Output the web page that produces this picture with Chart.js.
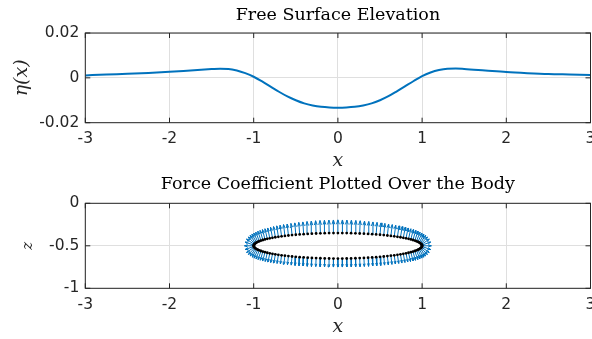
<!DOCTYPE html>
<html><head><meta charset="utf-8">
<script src="https://cdn.jsdelivr.net/npm/chart.js@4.4.1/dist/chart.umd.min.js"></script>
<style>
html,body{margin:0;padding:0;background:#fff;overflow:hidden;width:592px;height:339px;position:relative;}
canvas{position:absolute;left:0;}
#c1{top:0;width:612px;height:172px;}
#c2{top:170px;width:612px;height:168px;}
</style></head><body>
<canvas id="c1" width="612" height="172"></canvas>
<canvas id="c2" width="612" height="168"></canvas>
<script>
// ---------- data ----------
const xTicks = [-3, -2, -1, 0, 1, 2, 3];
const xTickLabels = ['-3', '-2', '-1', '0', '1', '2', '3'];
const etaTicks = [-0.02, 0, 0.02];
const etaTickLabels = ['-0.02', '0', '0.02'];
const zTicks = [-1, -0.5, 0];
const zTickLabels = ['-1', '-0.5', '0'];

// free surface elevation eta(x)
const etaX = [-3, -2.75, -2.5, -2.25, -2, -1.75, -1.5, -1.4, -1.3, -1.2, -1.1, -1.0, -0.9, -0.8, -0.7, -0.6, -0.5, -0.4, -0.3, -0.2, -0.1,
  0, 0.1, 0.2, 0.3, 0.4, 0.5, 0.6, 0.7, 0.8, 0.9, 1.0, 1.1, 1.2, 1.3, 1.4, 1.5, 1.75, 2, 2.25, 2.5, 2.75, 3];
const etaY = [0.0011, 0.0015, 0.0018, 0.0022, 0.0027, 0.0033, 0.0039, 0.0041, 0.0040, 0.0033, 0.0021, 0.0005, -0.0016, -0.0039, -0.0062, -0.0083, -0.0100, -0.0114, -0.0123, -0.0129, -0.0132,
  -0.0133, -0.0132, -0.0129, -0.0123, -0.0114, -0.0100, -0.0082, -0.0060, -0.0037, -0.0014, 0.0008, 0.0024, 0.0035, 0.0041, 0.0042, 0.0040, 0.0033, 0.0026, 0.0021, 0.0017, 0.0015, 0.0013];

// body (one quadrant, 3-degree panels) and force coefficient vectors
const bodyCenterZ = -0.5;
const qCos = [1.0000, 0.9986, 0.9945, 0.9877, 0.9781, 0.9659, 0.9511, 0.9336, 0.9135, 0.8910, 0.8660, 0.8387, 0.8090, 0.7771, 0.7431, 0.7071,
  0.6691, 0.6293, 0.5878, 0.5446, 0.5000, 0.4540, 0.4067, 0.3584, 0.3090, 0.2588, 0.2079, 0.1564, 0.1045, 0.0523, 0];
const qDz = [0, 0.0078, 0.0157, 0.0235, 0.0312, 0.0388, 0.0464, 0.0538, 0.0610, 0.0681, 0.0750, 0.0817, 0.0882, 0.0944, 0.1004, 0.1061,
  0.1115, 0.1166, 0.1214, 0.1258, 0.1299, 0.1337, 0.1370, 0.1400, 0.1427, 0.1449, 0.1467, 0.1482, 0.1492, 0.1498, 0.1500];
const qNx = [1.000, 0.944, 0.819, 0.688, 0.577, 0.489, 0.419, 0.364, 0.319, 0.282, 0.251, 0.225, 0.202, 0.182, 0.164, 0.148,
  0.134, 0.121, 0.108, 0.097, 0.086, 0.076, 0.067, 0.057, 0.049, 0.040, 0.032, 0.024, 0.016, 0.008, 0.000];
const qNz = [0.000, 0.330, 0.574, 0.726, 0.817, 0.873, 0.908, 0.931, 0.948, 0.959, 0.968, 0.974, 0.979, 0.983, 0.986, 0.989,
  0.991, 0.993, 0.994, 0.995, 0.996, 0.997, 0.998, 0.998, 0.999, 0.999, 1.000, 1.000, 1.000, 1.000, 1.000];
const forceTop = [0.110, 0.110, 0.111, 0.111, 0.112, 0.113, 0.114, 0.115, 0.117, 0.118, 0.120, 0.122, 0.124, 0.126, 0.128, 0.130,
  0.132, 0.134, 0.136, 0.138, 0.140, 0.142, 0.144, 0.146, 0.148, 0.150, 0.151, 0.152, 0.153, 0.154, 0.155];
const forceBot = [0.110, 0.110, 0.110, 0.109, 0.109, 0.108, 0.108, 0.107, 0.107, 0.106, 0.106, 0.105, 0.105, 0.104, 0.104, 0.103,
  0.103, 0.103, 0.102, 0.102, 0.102, 0.101, 0.101, 0.101, 0.101, 0.100, 0.100, 0.100, 0.100, 0.100, 0.100];

// ---------- build tables for the library ----------
const body = [];
function addQuadrant(from, to, sx, sz, mags) {
  for (let k = from; k <= to; k++) {
    body.push({x: sx * qCos[k], z: bodyCenterZ + sz * qDz[k], u: sx * qNx[k] * mags[k], w: sz * qNz[k] * mags[k]});
  }
}
addQuadrant(0, 30, 1, 1, forceTop);
addQuadrant(0, 29, -1, 1, forceTop);
addQuadrant(1, 30, -1, -1, forceBot);
addQuadrant(1, 29, 1, -1, forceBot);

const gap = {x: null, y: null};
const arrowPts = [];
const alpha = 0.33, beta = 0.33;
body.forEach(p => {
  const tx = p.x + p.u, tz = p.z + p.w;
  arrowPts.push({x: p.x, y: p.z}, {x: tx, y: tz}, gap);
  arrowPts.push({x: tx - alpha * (p.u + beta * p.w), y: tz - alpha * (p.w - beta * p.u)}, {x: tx, y: tz},
    {x: tx - alpha * (p.u - beta * p.w), y: tz - alpha * (p.w + beta * p.u)}, gap);
});

// ---------- styling ----------
const TXT = '#262626';
const BLUE = '#0072BD';
Chart.defaults.font.family = 'DejaVu Sans';
Chart.defaults.color = TXT;

const boxPlugin = {
  id: 'box',
  afterDatasetsDraw(chart) {
    const {ctx, chartArea: a, scales: {x, y}} = chart;
    ctx.save();
    ctx.strokeStyle = TXT;
    ctx.lineWidth = 1;
    ctx.beginPath();
    const L = 5;
    x.ticks.forEach(t => {
      const px = x.getPixelForValue(t.value);
      ctx.moveTo(px, a.bottom); ctx.lineTo(px, a.bottom - L);
      ctx.moveTo(px, a.top); ctx.lineTo(px, a.top + L);
    });
    y.ticks.forEach(t => {
      const py = y.getPixelForValue(t.value);
      ctx.moveTo(a.left, py); ctx.lineTo(a.left + L, py);
      ctx.moveTo(a.right, py); ctx.lineTo(a.right - L, py);
    });
    ctx.stroke();
    ctx.strokeRect(a.left, a.top, a.right - a.left, a.bottom - a.top);
    ctx.restore();
  }
};

function xAxis(height) {
  return {
    type: 'linear', min: -3, max: 3,
    afterBuildTicks: s => { s.ticks = xTicks.map(v => ({value: v})); },
    afterFit: s => { s.height = height; },
    ticks: {font: {size: 15.5}, color: TXT, padding: 7, maxRotation: 0,
      callback: v => xTickLabels[xTicks.indexOf(v)]},
    grid: {color: '#dfdfdf', lineWidth: 1, drawTicks: false},
    border: {display: false},
    title: {display: true, text: 'x', font: {family: 'DejaVu Serif', style: 'italic', size: 19}, color: TXT, padding: {top: 0, bottom: 0}}
  };
}
function yAxis(min, max, ticks, labels, titleText, titleSize, titlePad) {
  return {
    type: 'linear', min: min, max: max,
    afterBuildTicks: s => { s.ticks = ticks.map(v => ({value: v})); },
    afterFit: s => { s.width = 85.3; },
    ticks: {font: {size: 15.5}, color: TXT, padding: 6,
      callback: v => labels[ticks.findIndex(t => Math.abs(t - v) < 1e-9)]},
    grid: {color: '#dfdfdf', lineWidth: 1, drawTicks: false},
    border: {display: false},
    title: {display: true, text: titleText, font: {family: 'DejaVu Serif', style: 'italic', size: titleSize}, color: TXT, padding: {top: titlePad, bottom: 0}}
  };
}
function titleOpts(text, pt, pb) {
  return {display: true, text: text, fullSize: false, color: '#000',
    font: {family: 'DejaVu Serif', size: 17.5, weight: 'normal'}, padding: {top: pt, bottom: pb}};
}

new Chart(document.getElementById('c1'), {
  type: 'scatter',
  data: {datasets: [{
    data: etaX.map((x, i) => ({x: x, y: etaY[i]})),
    showLine: true, borderColor: BLUE, borderWidth: 2, pointRadius: 0,
    cubicInterpolationMode: 'monotone', fill: false
  }]},
  options: {
    responsive: false, animation: false, events: [],
    layout: {padding: {left: 0, right: 21.5, top: 0, bottom: 0}},
    plugins: {legend: {display: false}, tooltip: {enabled: false},
      title: titleOpts('Free Surface Elevation', 4.5, 7.5)},
    scales: {x: xAxis(172 - 122.7), y: yAxis(-0.02, 0.02, etaTicks, etaTickLabels, 'η(x)', 19, 11.1)}
  },
  plugins: [boxPlugin]
});

new Chart(document.getElementById('c2'), {
  type: 'scatter',
  data: {datasets: [
    {data: body.map(p => ({x: p.x, y: p.z})), showLine: false, pointRadius: 1.4, pointBorderWidth: 0,
      pointBackgroundColor: '#000', pointBorderColor: '#000'},
    {data: arrowPts, showLine: true, spanGaps: false, borderColor: BLUE, borderWidth: 1, pointRadius: 0, fill: false}
  ]},
  options: {
    responsive: false, animation: false, events: [],
    layout: {padding: {left: 0, right: 21.5, top: 0, bottom: 0}},
    plugins: {legend: {display: false}, tooltip: {enabled: false},
      title: titleOpts('Force Coefficient Plotted Over the Body', 3.5, 8.8)},
    scales: {x: xAxis(168 - 118.3), y: yAxis(-1, 0, zTicks, zTickLabels, 'z', 15, 19)}
  },
  plugins: [boxPlugin]
});
</script>
</body></html>
